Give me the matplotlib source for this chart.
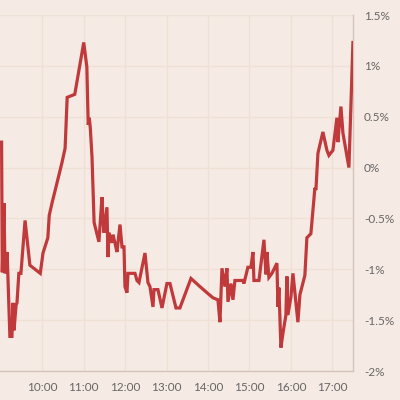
import matplotlib
matplotlib.use("Agg")
import matplotlib.pyplot as plt

# minutes after 09:00 and % change
minutes = [-1, 1, 2, 4.5, 6, 9, 13, 16, 17.5, 19, 22, 23.3, 26, 29, 35, 42, 57, 61, 68, 70, 74, 86, 88.5, 93, 96, 107, 120,
           124.5, 125.5, 126.5, 128, 129.5, 132, 135, 142, 146.4, 147.9, 149.3, 153.6, 155.1, 156.5, 160.9, 162.3, 165.2,
           168.1, 172.5, 175.4, 178.3, 179.7, 182.6, 184.1, 194.2, 197.1, 200, 208.7, 213, 215.9, 220.3, 221.7, 227.5,
           233.3, 240.5, 244.9, 253.6, 259.3, 275.3, 288.3, 298.4, 307.1, 314.4, 317.3, 320.2, 324.5, 327.4, 328.9,
           333.2, 336.1, 339, 350.6, 352, 357.8, 362.2, 365.1, 366.5, 373.8, 381, 383.9, 385.3, 388.2, 392.6, 399.8,
           401.3, 402.7, 405.6, 408.5, 412.8, 414.3, 415.7, 420.1, 423, 430.2, 433.1, 440.3, 443.2, 449, 454.8, 456.3,
           459.2, 466.4, 472.2, 475.1, 480.9, 486.7, 488.1, 492.5, 495.4, 504.1, 509.9]
change = [0.25, 0.25, -1.03, -0.35, -1.04, -0.83, -1.66, -1.66, -1.33, -1.60, -1.35, -1.33, -1.04, -1.04, -0.52, -0.96,
          -1.04, -0.84, -0.69, -0.47, -0.35, -0.02, 0.05, 0.19, 0.69, 0.72, 1.23,
          0.99, 0.69, 0.42, 0.49, 0.39, 0.10, -0.54, -0.73, -0.29, -0.52, -0.64, -0.39, -0.88, -0.64, -0.74, -0.66, -0.74,
          -0.83, -0.56, -0.78, -0.78, -1.17, -1.23, -1.04, -1.04, -1.11, -1.13, -0.84, -1.13, -1.17, -1.37, -1.20, -1.20,
          -1.38, -1.14, -1.14, -1.38, -1.38, -1.09, -1.17, -1.23, -1.28, -1.30, -1.52, -0.99, -1.17, -0.99, -1.32,
          -1.14, -1.30, -1.11, -1.11, -1.14, -0.98, -0.98, -0.83, -1.11, -1.11, -0.71, -1.05, -0.83, -1.08, -1.04, -0.94,
          -1.37, -1.18, -1.77, -1.63, -1.45, -1.07, -1.45, -1.27, -1.04, -1.52, -1.25, -1.06, -0.69, -0.65, -0.20, -0.22,
          0.14, 0.35, 0.17, 0.12, 0.17, 0.49, 0.25, 0.60, 0.34, 0.00, 1.23]

xtick_pos = [60, 120, 180, 240, 300, 360, 420, 480]
xtick_labels = ["10:00", "11:00", "12:00", "13:00", "14:00", "15:00", "16:00", "17:00"]
ytick_pos = [1.5, 1.0, 0.5, 0.0, -0.5, -1.0, -1.5, -2.0]
ytick_labels = ["1.5%", "1%", "0.5%", "0%", "-0.5%", "-1%", "-1.5%", "-2%"]

bg = "#f6eae4"
fig = plt.figure(figsize=(4, 4), dpi=100, facecolor=bg)
ax = fig.add_axes([0, 1 - 371 / 400, 353 / 400, 356 / 400], facecolor=bg)

ax.plot(minutes, change, color="#c0393b", lw=2.3, solid_joinstyle="miter", zorder=3)

ax.set_xlim(-1.3, 510)
ax.set_ylim(-2.0, 1.5)
ax.set_xticks(xtick_pos)
ax.set_xticklabels(xtick_labels)
ax.set_yticks(ytick_pos)
ax.set_yticklabels(ytick_labels)
ax.yaxis.tick_right()

for s in ["top", "left"]:
    ax.spines[s].set_visible(False)
for s in ["right", "bottom"]:
    ax.spines[s].set_color("#d3c4bc")
    ax.spines[s].set_linewidth(1.0)

ax.grid(True, color="#efe0d6", lw=1.0, zorder=0)
ax.tick_params(axis="both", length=0, labelcolor="#666666", labelsize=8.5)
ax.tick_params(axis="x", pad=8)
ax.tick_params(axis="y", pad=8)
for lab in ax.get_xticklabels() + ax.get_yticklabels():
    lab.set_fontfamily("Lato")

fig.savefig("out.png", dpi=100, facecolor=bg)
